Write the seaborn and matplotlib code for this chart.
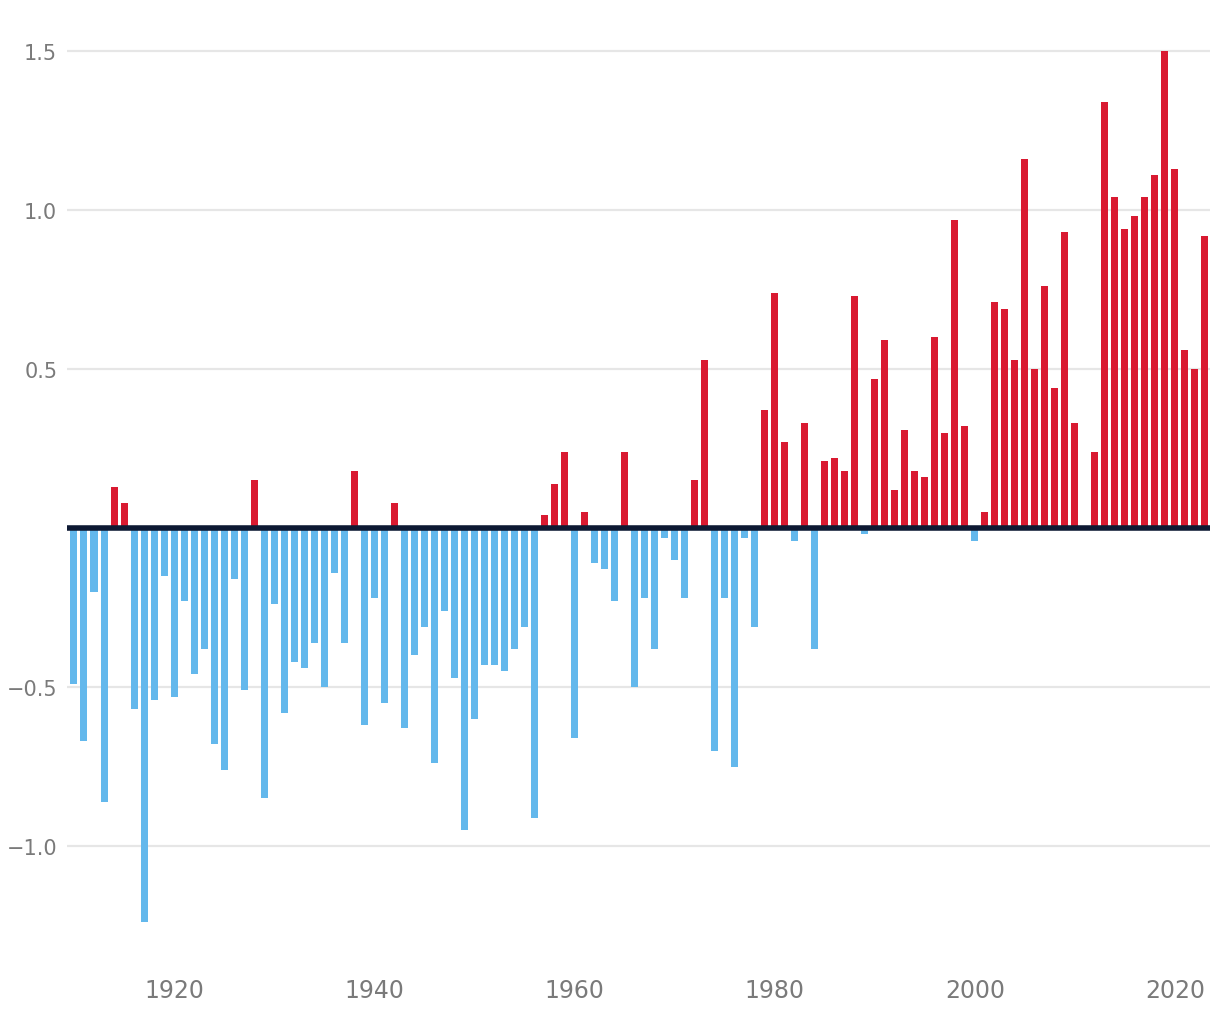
import pandas as pd
import seaborn as sns
import matplotlib.pyplot as plt
import numpy as np

years = list(range(1910, 2024))
anomaly = [
    -0.49, -0.67, -0.20, -0.86, 0.13, 0.08, -0.57, -1.24, -0.54, -0.15,   # 1910s
    -0.53, -0.23, -0.46, -0.38, -0.68, -0.76, -0.16, -0.51, 0.15, -0.85,  # 1920s
    -0.24, -0.58, -0.42, -0.44, -0.36, -0.50, -0.14, -0.36, 0.18, -0.62,  # 1930s
    -0.22, -0.55, 0.08, -0.63, -0.40, -0.31, -0.74, -0.26, -0.47, -0.95,  # 1940s
    -0.60, -0.43, -0.43, -0.45, -0.38, -0.31, -0.91, 0.04, 0.14, 0.24,    # 1950s
    -0.66, 0.05, -0.11, -0.13, -0.23, 0.24, -0.50, -0.22, -0.38, -0.03,   # 1960s
    -0.10, -0.22, 0.15, 0.53, -0.70, -0.22, -0.75, -0.03, -0.31, 0.37,    # 1970s
    0.74, 0.27, -0.04, 0.33, -0.38, 0.21, 0.22, 0.18, 0.73, -0.02,        # 1980s
    0.47, 0.59, 0.12, 0.31, 0.18, 0.16, 0.60, 0.30, 0.97, 0.32,           # 1990s
    -0.04, 0.05, 0.71, 0.69, 0.53, 1.16, 0.50, 0.76, 0.44, 0.93,          # 2000s
    0.33, 0.00, 0.24, 1.34, 1.04, 0.94, 0.98, 1.04, 1.11, 1.50,           # 2010s
    1.13, 0.56, 0.50, 0.92,                                               # 2020s
]
xtick_years = [1920, 1940, 1960, 1980, 2000, 2020]
ytick_values = [-1.0, -0.5, 0.5, 1.0, 1.5]
ytick_labels = ["\u22121.0", "\u22120.5", "0.5", "1.0", "1.5"]

df = pd.DataFrame({"year": years, "value": anomaly})
df["sign"] = np.where(df["value"] < 0, "neg", "pos")

red = "#d91a31"
blue = "#63b8ec"
grid_col = "#e6e6e6"
text_col = "#7a7a7a"

sns.set_style("white")
plt.rcParams['font.family'] = ['DejaVu Sans']

fig = plt.figure(figsize=(12.2, 10.2), dpi=100)
ax = fig.add_axes([0.0549, 0.0588, 0.9369, 0.9020])

# gridlines first so bars sit on top
for v in ytick_values:
    ax.axhline(v, color=grid_col, linewidth=1.6, zorder=0)

sns.barplot(
    data=df, x="year", y="value", hue="sign",
    palette={"neg": blue, "pos": red},
    native_scale=True, dodge=False, width=0.7,
    errorbar=None, legend=False, saturation=1, linewidth=0,
    ax=ax, zorder=2
)

ax.axhline(0, color="#0d1933", linewidth=4.0, zorder=3)

ax.set_xlim(1909.3, 2023.5)
ax.set_ylim(-1.355, 1.538)

ax.set_yticks(ytick_values)
ax.set_yticklabels(ytick_labels, fontsize=15, color=text_col)
ax.set_xticks(xtick_years)
ax.set_xticklabels([str(y) for y in xtick_years], fontsize=17, color=text_col)
ax.tick_params(axis="both", length=0)
ax.tick_params(axis="y", pad=7)
ax.tick_params(axis="x", pad=14)

ax.set_xlabel("")
ax.set_ylabel("")
for s in ax.spines.values():
    s.set_visible(False)

fig.savefig("out.png", dpi=100)
